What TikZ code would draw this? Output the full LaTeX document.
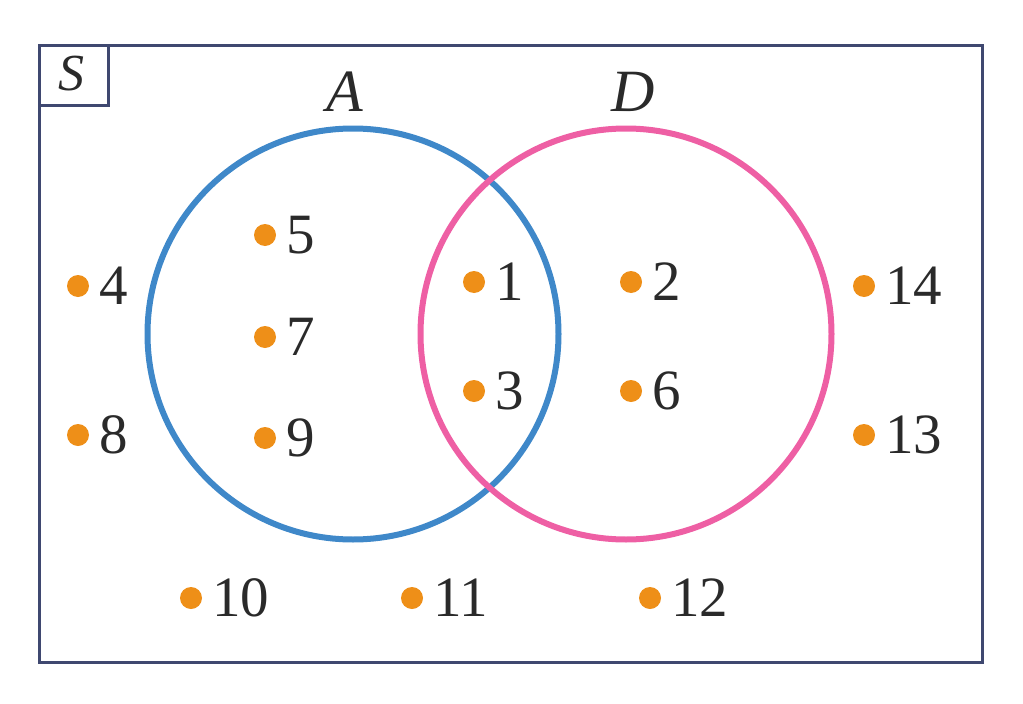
\documentclass[tikz,border=0pt]{standalone}
\usepackage{fontspec}
\setmainfont{Liberation Serif}
\definecolor{navy}{HTML}{3F4870}
\definecolor{cblue}{HTML}{3F88C9}
\definecolor{cpink}{HTML}{EE5FA4}
\definecolor{dotc}{HTML}{EE8F18}
\definecolor{txt}{HTML}{2A2A2A}
\tikzset{
  pt/.style={circle,fill=dotc,minimum size=22pt,inner sep=0pt},
  num/.style={anchor=west,inner sep=0pt,text=txt,font=\fontsize{57}{57}\selectfont},
  setlab/.style={text=txt,inner sep=0pt,font=\fontsize{60}{60}\selectfont\itshape},
}
\newcommand{\elem}[4]{\node[pt] (#1) at (#2,#3) {}; \node[num] (l#1) at (#2+21,#3) {#4};}
\begin{document}
\begin{tikzpicture}[x=1pt,y=-1pt]
\useasboundingbox (0,0) rectangle (1023,704);
\node[draw=navy,line width=3.5pt,minimum width=943pt,minimum height=617pt,inner sep=0pt,anchor=north west] (S) at (37.5,43.5) {};
\node[draw=navy,line width=3.5pt,minimum width=69pt,minimum height=60pt,inner sep=0pt,anchor=north west] (Sbox) at (37.5,43.5) {};
\node[setlab,font=\fontsize{52}{52}\selectfont\itshape] (Slab) at (71,74) {S};
\node[draw=cblue,line width=6pt,circle,minimum size=411pt,inner sep=0pt] (A) at (353,334) {};
\node[draw=cpink,line width=6pt,circle,minimum size=411pt,inner sep=0pt] (D) at (626,334) {};
\node[setlab] (Alab) at (345,92) {A};
\node[setlab] (Dlab) at (633,92) {D};
\elem{e4}{78}{286}{4}
\elem{e8}{78}{435}{8}
\elem{e5}{265}{235}{5}
\elem{e7}{265}{337}{7}
\elem{e9}{265}{438}{9}
\elem{e1}{474}{282}{1}
\elem{e3}{474}{391}{3}
\elem{e2}{631}{282}{2}
\elem{e6}{631}{391}{6}
\elem{e14}{864}{286}{14}
\elem{e13}{864}{435}{13}
\elem{e10}{191}{598}{10}
\elem{e11}{412}{598}{11}
\elem{e12}{650}{598}{12}
\end{tikzpicture}
\end{document}
